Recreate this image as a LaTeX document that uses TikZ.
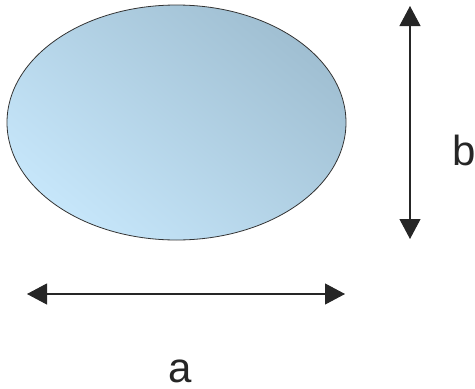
\documentclass[tikz,border=0pt]{standalone}
\usepackage{fontspec}
\setmainfont{Liberation Sans}
\usetikzlibrary{shapes.geometric,arrows.meta}
\definecolor{lightc}{HTML}{C6E6FA}
\definecolor{darkc}{HTML}{A0BFD2}
\definecolor{edgec}{HTML}{333333}
\tikzset{
  dimline/.style={draw=black!85, line width=1.1pt, {Triangle[length=20pt,width=21pt]}-{Triangle[length=20pt,width=21pt]}},
  lbl/.style={font=\fontsize{42}{42}\selectfont, text=black!85, inner sep=0pt}
}
\begin{document}
\begin{tikzpicture}[x=1pt,y=-1pt]
\useasboundingbox (0,0) rectangle (475,389);
\node[ellipse, draw=edgec, line width=0.8pt, minimum width=339pt, minimum height=235pt, inner sep=0pt,
      top color=darkc, bottom color=lightc, shading angle=-40] (ell) at (176.5,122.5) {};
\coordinate (vt) at (410,6);
\coordinate (vb) at (410,239);
\coordinate (hl) at (27,294);
\coordinate (hr) at (345,294);
\draw[dimline] (vt) -- (vb);
\draw[dimline] (hl) -- (hr);
\node[lbl, anchor=base] (b) at (464,165) {b};
\node[lbl, anchor=base] (a) at (180,382) {a};
\end{tikzpicture}
\end{document}
